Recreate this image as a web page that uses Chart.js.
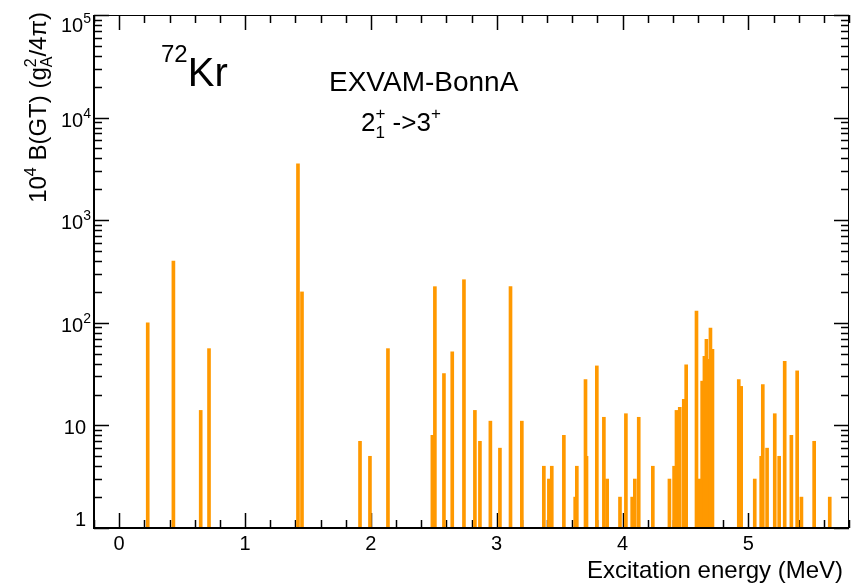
<!DOCTYPE html>
<html>
<head>
<meta charset="utf-8">
<script src="https://cdn.jsdelivr.net/npm/chart.js@4.4.1/dist/chart.umd.min.js"></script>
<style>
  html, body { margin: 0; padding: 0; background: #fff; }
  canvas { display: block; }
</style>
</head>
<body>
<canvas id="graficoBGT" width="851" height="583"></canvas>
<script>
// Energias de excitação dos estados 3+ (MeV)
const energias = [
    0.227, 0.431, 0.648, 0.714, 1.421, 1.453, 1.914, 1.993, 2.136, 2.489,
    2.509, 2.581, 2.647, 2.740, 2.827, 2.867, 2.950, 3.026, 3.110, 3.200,
    3.375, 3.415, 3.438, 3.534, 3.624, 3.637, 3.706, 3.714, 3.796, 3.852,
    3.878, 3.980, 4.027, 4.077, 4.098, 4.129, 4.241, 4.373, 4.410, 4.429,
    4.455, 4.487, 4.506, 4.588, 4.614, 4.633, 4.651, 4.667, 4.681, 4.699,
    4.715, 4.924, 4.943, 5.051, 5.102, 5.115, 5.149, 5.210, 5.245, 5.289,
    5.342, 5.388, 5.422, 5.523, 5.647
];
// 10^4 B(GT) para cada estado
const forcas = [
    100, 400, 14, 56, 3550, 200, 7, 5, 56, 8,
    225, 32, 52, 263, 14, 7, 11, 6, 225, 11,
    4, 3, 4, 8, 2, 4, 28, 5, 38, 12,
    3, 2, 13, 2, 3, 12, 4, 3, 4, 14,
    15, 18, 39, 130, 3, 27, 47, 69, 44, 89,
    55, 28, 24, 3, 5, 25, 6, 13, 5, 42,
    8, 34, 2, 7, 2
];
const rotulosX = [0, 1, 2, 3, 4, 5];
const expoentesY = [0, 1, 2, 3, 4, 5];

const FONTE = '"Liberation Sans", Arial, Helvetica, sans-serif';

// Desenha texto com sobrescritos/subscritos; "junto" empilha o próximo pedaço no mesmo x
function textoRico(ctx, x, y, partes, desenhar = true) {
    let cx = x;
    let larguraJunto = 0;
    partes.forEach(p => {
        ctx.font = p.tam + 'px ' + FONTE;
        const w = ctx.measureText(p.t).width;
        if (desenhar) ctx.fillText(p.t, cx, y + (p.dy || 0));
        if (p.junto) {
            larguraJunto = Math.max(larguraJunto, w);
        } else {
            cx += Math.max(w, larguraJunto);
            larguraJunto = 0;
        }
    });
    return cx - x;
}

// Moldura, marcas e textos no estilo ROOT
const eixosPlugin = {
    id: 'eixos',
    beforeDatasetsDraw(chart) {
        const ctx = chart.ctx;
        const { left, right, top, bottom } = chart.chartArea;
        const sx = chart.scales.x, sy = chart.scales.y;
        ctx.save();
        ctx.strokeStyle = '#000';
        ctx.lineWidth = 1.5;
        ctx.beginPath();
        // marcas do eixo x (inferior e superior)
        for (let i = -1; i <= 29; i++) {
            const px = Math.round(sx.getPixelForValue(i / 5)) + 0.5;
            const tam = i % 5 === 0 ? 15 : 8;
            ctx.moveTo(px, bottom); ctx.lineTo(px, bottom - tam);
            ctx.moveTo(px, top); ctx.lineTo(px, top + tam);
        }
        // marcas do eixo y logarítmico (esquerda e direita)
        for (let k = 0; k <= 5; k++) {
            for (let m = 1; m <= 9; m++) {
                if (k === 5 && m > 1) break;
                const py = Math.round(sy.getPixelForValue(m * Math.pow(10, k))) + 0.5;
                const tam = m === 1 ? 15 : 8;
                ctx.moveTo(left, py); ctx.lineTo(left + tam, py);
                ctx.moveTo(right, py); ctx.lineTo(right - tam, py);
            }
        }
        ctx.stroke();
        ctx.restore();
    },
    afterDraw(chart) {
        const ctx = chart.ctx;
        const { left, right, top, bottom } = chart.chartArea;
        const sx = chart.scales.x, sy = chart.scales.y;
        ctx.save();
        ctx.strokeStyle = '#000';
        ctx.lineWidth = 1;
        ctx.beginPath();
        ctx.moveTo(left, top + 0.5); ctx.lineTo(right, top + 0.5);
        ctx.moveTo(right - 0.5, top); ctx.lineTo(right - 0.5, bottom);
        ctx.stroke();
        ctx.lineWidth = 2;
        ctx.beginPath();
        ctx.moveTo(left, top); ctx.lineTo(left, bottom + 1);
        ctx.moveTo(left - 1, bottom); ctx.lineTo(right, bottom);
        ctx.stroke();

        ctx.fillStyle = '#000';
        ctx.textBaseline = 'alphabetic';

        // rótulos do eixo x
        ctx.font = '20px ' + FONTE;
        ctx.textAlign = 'center';
        rotulosX.forEach(v => ctx.fillText(String(v), sx.getPixelForValue(v), 550));

        // rótulos do eixo y: 1, 10, 10^2 ...
        ctx.textAlign = 'left';
        expoentesY.forEach(k => {
            const py = sy.getPixelForValue(Math.pow(10, k));
            const base = Math.min(Math.max(py + 9, 32), 526);
            let partes;
            if (k === 0) partes = [{ t: '1', tam: 20 }];
            else if (k === 1) partes = [{ t: '10', tam: 20 }];
            else partes = [{ t: '10', tam: 20 }, { t: String(k), tam: 14, dy: -9 }];
            const w = textoRico(ctx, 0, 0, partes, false);
            const fim = k < 2 ? 86 : 91;
            textoRico(ctx, fim - w, base, partes);
        });

        // título do eixo x
        ctx.font = '24px ' + FONTE;
        ctx.textAlign = 'right';
        ctx.fillText('Excitation energy (MeV)', 843, 578);
        ctx.textAlign = 'left';

        // título do eixo y (girado)
        const tituloY = [
            { t: '10', tam: 24 }, { t: '4', tam: 16, dy: -10 },
            { t: ' B(GT) (g', tam: 24 },
            { t: '2', tam: 16, dy: -10, junto: true }, { t: 'A', tam: 16, dy: 6 },
            { t: '/4π)', tam: 24 }
        ];
        const wy = textoRico(ctx, 0, 0, tituloY, false);
        ctx.save();
        ctx.translate(46, 12 + wy);
        ctx.rotate(-Math.PI / 2);
        textoRico(ctx, 0, 0, tituloY);
        ctx.restore();

        // núcleo e modelo
        textoRico(ctx, 161, 86, [{ t: '72', tam: 24, dy: -24 }, { t: 'Kr', tam: 40 }]);
        ctx.font = '28px ' + FONTE;
        ctx.fillText('EXVAM-BonnA', 329, 91);
        textoRico(ctx, 361, 131, [
            { t: '2', tam: 26 },
            { t: '+', tam: 17, dy: -12, junto: true }, { t: '1', tam: 17, dy: 7 },
            { t: ' ->3', tam: 26 },
            { t: '+', tam: 17, dy: -12 }
        ]);
        ctx.restore();
    }
};

const ctx = document.getElementById('graficoBGT').getContext('2d');
const grafico = new Chart(ctx, {
    type: 'bar',
    data: {
        datasets: [{
            label: '10^4 B(GT)',
            data: energias.map((e, i) => ({ x: e, y: forcas[i] })),
            backgroundColor: '#ff9900',
            borderWidth: 0,
            barThickness: 3
        }]
    },
    options: {
        responsive: false,
        animation: false,
        devicePixelRatio: 1,
        layout: { padding: { left: 94, right: 2, top: 15, bottom: 55 } },
        scales: {
            x: { type: 'linear', min: -0.2, max: 5.8, offset: false, display: false },
            y: { type: 'logarithmic', min: 1, max: 100000, display: false }
        },
        plugins: {
            legend: { display: false },
            tooltip: { enabled: false }
        }
    },
    plugins: [eixosPlugin]
});
</script>
</body>
</html>
